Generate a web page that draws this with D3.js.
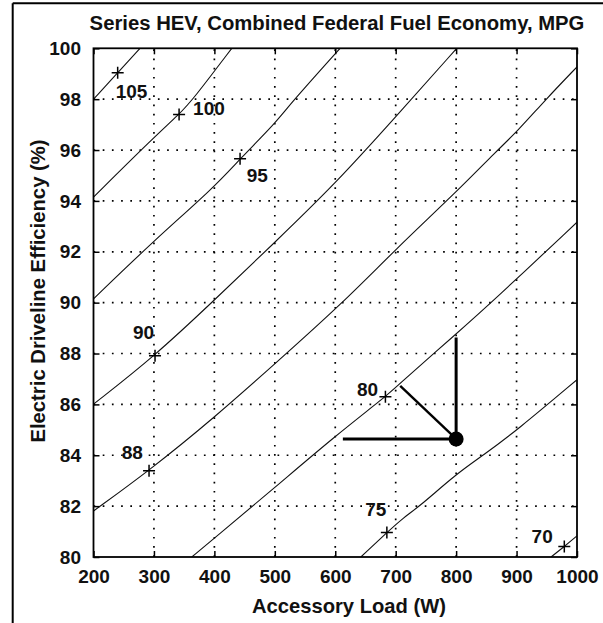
<!DOCTYPE html>
<html>
<head>
<meta charset="utf-8">
<script src="https://cdn.jsdelivr.net/npm/d3@7"></script>
<style>
  body { margin: 0; background: #fff; }
  svg { display: block; font-family: "Liberation Sans", Arial, sans-serif; }
</style>
</head>
<body>
<div id="chart"></div>
<script>
// Iso-MPG contour lines as [accessory load W, driveline efficiency %]
const contour105 = [[200, 98.0], [240, 99.04], [277, 100]];
const contour100 = [[200, 94.15], [300, 96.5], [341.6, 97.4], [365, 98], [428.8, 100]];
const contour95 = [[200, 90.15], [300, 92.44], [400, 94.54], [442.5, 95.66], [500, 97.03], [525, 97.8], [608, 100]];
const contour90 = [[200, 86.01], [301.8, 87.91], [400, 90.1], [500, 92.37], [600, 94.67], [700, 97.3], [801, 100]];
const contour85 = [[200, 81.81], [291.9, 83.39], [400, 85.48], [500, 87.59], [613, 90], [700, 92.1], [800, 94.34], [868.5, 96], [900, 96.7], [948.7, 98], [1000, 99.27]];
const contour80 = [[362.6, 80], [400, 80.74], [500, 82.73], [600, 84.76], [683, 86.3], [700, 86.68], [800, 88.77], [862, 90.08], [1000, 93.16]];
const contour75 = [[642.4, 80], [685.4, 80.96], [712.4, 81.54], [740, 82], [800, 83.26], [844.9, 84], [900, 84.97], [1000, 86.97]];
const contour70 = [[957, 80], [979, 80.41], [1000, 80.83]];
const contours = [contour105, contour100, contour95, contour90, contour85, contour80, contour75, contour70];

// contour label markers and their texts
const labelText = ["105", "100", "95", "90", "88", "80", "75", "70"];
const markerX = [240, 341.6, 442.5, 301.8, 291.9, 683, 685.4, 979];
const markerY = [99.04, 97.4, 95.66, 87.91, 83.39, 86.3, 80.96, 80.41];

// operating point and its three arrows
const opPoint = [800, 84.64];
const arrowUpEnd = [800, 88.63];
const arrowLeftEnd = [612.6, 84.64];
const arrowDiagEnd = [707.5, 86.73];

const xTicks = [200, 300, 400, 500, 600, 700, 800, 900, 1000];
const yTicks = [80, 82, 84, 86, 88, 90, 92, 94, 96, 98, 100];

// label offsets from the marker, in pixels
const labelOffset = [[-2, 25.5], [14, 1], [6.7, 23.4], [-22, -17], [-27.3, -12], [-28.5, -0.7], [-21.7, -16.7], [-32.7, -3.7]];

const width = 603, height = 623;
const plotLeft = 93.5, plotRight = 577, plotTop = 48.3, plotBottom = 557;

const x = d3.scaleLinear().domain([200, 1000]).range([plotLeft, plotRight]);
const y = d3.scaleLinear().domain([80, 100]).range([plotBottom, plotTop]);

const svg = d3.select("#chart").append("svg")
  .attr("width", width)
  .attr("height", height);

// outer figure frame (only left and top edges show)
svg.append("line").attr("x1", 12.7).attr("x2", 12.7).attr("y1", 3.3).attr("y2", height)
  .attr("stroke", "#000").attr("stroke-width", 2);
svg.append("line").attr("x1", 12.7).attr("x2", width).attr("y1", 3.3).attr("y2", 3.3)
  .attr("stroke", "#000").attr("stroke-width", 2);

// dotted grid
const grid = svg.append("g")
  .attr("stroke", "#000")
  .attr("stroke-width", 1.7)
  .attr("stroke-dasharray", "1.7,7.5");
grid.selectAll("line.v")
  .data(xTicks.slice(1, -1))
  .join("line")
  .attr("class", "v")
  .attr("x1", d => x(d)).attr("x2", d => x(d))
  .attr("y1", plotBottom).attr("y2", plotTop);
grid.selectAll("line.h")
  .data(yTicks.slice(1, -1))
  .join("line")
  .attr("class", "h")
  .attr("x1", plotLeft).attr("x2", plotRight)
  .attr("y1", d => y(d)).attr("y2", d => y(d));

// contour lines, clipped to the axes
svg.append("clipPath").attr("id", "plot-clip")
  .append("rect")
  .attr("x", plotLeft).attr("y", plotTop)
  .attr("width", plotRight - plotLeft).attr("height", plotBottom - plotTop);

const line = d3.line()
  .x(d => x(d[0]))
  .y(d => y(d[1]))
  .curve(d3.curveBasis);

svg.append("g")
  .attr("clip-path", "url(#plot-clip)")
  .attr("fill", "none")
  .attr("stroke", "#111")
  .attr("stroke-width", 1.1)
  .selectAll("path")
  .data(contours)
  .join("path")
  .attr("d", line);

// plus markers
svg.append("g")
  .attr("stroke", "#000")
  .attr("stroke-width", 1.5)
  .selectAll("path")
  .data(markerX)
  .join("path")
  .attr("d", (d, i) => {
    const cx = x(d), cy = y(markerY[i]);
    return `M${cx - 6},${cy}H${cx + 6}M${cx},${cy - 6}V${cy + 6}`;
  });

// contour labels
svg.append("g")
  .attr("font-size", 19)
  .attr("font-weight", "bold")
  .attr("fill", "#111")
  .selectAll("text")
  .data(labelText)
  .join("text")
  .attr("x", (d, i) => x(markerX[i]) + labelOffset[i][0])
  .attr("y", (d, i) => y(markerY[i]) + labelOffset[i][1])
  .text(d => d);

// operating point triangle
const arrows = svg.append("g").attr("stroke", "#000").attr("stroke-linecap", "butt");
arrows.append("line")
  .attr("x1", x(opPoint[0])).attr("y1", y(opPoint[1]))
  .attr("x2", x(arrowUpEnd[0])).attr("y2", y(arrowUpEnd[1]))
  .attr("stroke-width", 3);
arrows.append("line")
  .attr("x1", x(opPoint[0])).attr("y1", y(opPoint[1]))
  .attr("x2", x(arrowLeftEnd[0])).attr("y2", y(arrowLeftEnd[1]))
  .attr("stroke-width", 3);
arrows.append("line")
  .attr("x1", x(opPoint[0])).attr("y1", y(opPoint[1]))
  .attr("x2", x(arrowDiagEnd[0])).attr("y2", y(arrowDiagEnd[1]))
  .attr("stroke-width", 2.4);
svg.append("circle")
  .attr("cx", x(opPoint[0])).attr("cy", y(opPoint[1]))
  .attr("r", 7.5)
  .attr("fill", "#000");

// axes with inward ticks
const tickFont = g => g.selectAll("text")
  .attr("font-size", 19).attr("font-weight", "bold").attr("fill", "#111")
  .attr("font-family", "\"Liberation Sans\", Arial, sans-serif");

svg.append("g")
  .attr("transform", `translate(0,${plotBottom})`)
  .call(d3.axisBottom(x).tickValues(xTicks).tickFormat(d3.format("d"))
    .tickSize(-6).tickPadding(12.5).tickSizeOuter(0))
  .call(g => g.select(".domain").remove())
  .call(tickFont);
svg.append("g")
  .attr("transform", `translate(${plotLeft},0)`)
  .call(d3.axisLeft(y).tickValues(yTicks).tickFormat(d3.format("d"))
    .tickSize(-6).tickPadding(12.5).tickSizeOuter(0))
  .call(g => g.select(".domain").remove())
  .call(tickFont);
svg.append("g")
  .attr("transform", `translate(0,${plotTop})`)
  .call(d3.axisTop(x).tickValues(xTicks).tickSize(-6).tickFormat("").tickSizeOuter(0))
  .call(g => g.select(".domain").remove());
svg.append("g")
  .attr("transform", `translate(${plotRight},0)`)
  .call(d3.axisRight(y).tickValues(yTicks).tickSize(-6).tickFormat("").tickSizeOuter(0))
  .call(g => g.select(".domain").remove());
svg.selectAll(".tick line").attr("stroke", "#000").attr("stroke-width", 1.5);

// axes box
svg.append("rect")
  .attr("x", plotLeft).attr("y", plotTop)
  .attr("width", plotRight - plotLeft).attr("height", plotBottom - plotTop)
  .attr("fill", "none")
  .attr("stroke", "#000")
  .attr("stroke-width", 1.8);

// title and axis labels
svg.append("text")
  .attr("x", 337).attr("y", 29.5)
  .attr("text-anchor", "middle")
  .attr("font-size", 20.3).attr("font-weight", "bold").attr("fill", "#111")
  .text("Series HEV, Combined Federal Fuel Economy, MPG");
svg.append("text")
  .attr("x", 349).attr("y", 612.5)
  .attr("text-anchor", "middle")
  .attr("font-size", 20.2).attr("font-weight", "bold").attr("fill", "#111")
  .text("Accessory Load (W)");
svg.append("text")
  .attr("transform", "translate(45,291) rotate(-90)")
  .attr("text-anchor", "middle")
  .attr("font-size", 20.3).attr("font-weight", "bold").attr("fill", "#111")
  .text("Electric Driveline Efficiency (%)");
</script>
</body>
</html>
